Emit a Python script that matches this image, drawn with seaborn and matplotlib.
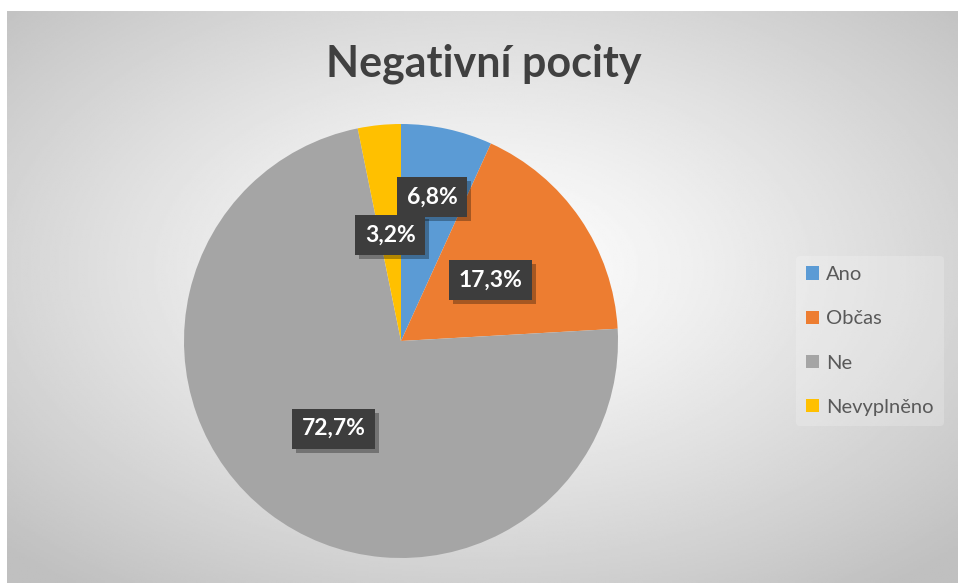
import numpy as np
import matplotlib
matplotlib.use("Agg")
import matplotlib.pyplot as plt
import matplotlib.patheffects as pe
import seaborn as sns

categories = ["Ano", "Občas", "Ne", "Nevyplněno"]
values = [6.8, 17.3, 72.7, 3.2]
labels = ["6,8%", "17,3%", "72,7%", "3,2%"]
title = "Negativní pocity"

sns.set_theme(style="white")
plt.rcParams["font.family"] = ["Lato", "DejaVu Sans"]
palette = sns.color_palette(["#5B9BD5", "#ED7D31", "#A5A5A5", "#FFC000"])

W, H = 958, 583
fig = plt.figure(figsize=(W / 100, H / 100), dpi=100)
fig.patch.set_facecolor("white")

# background radial gradient
bg = fig.add_axes([7 / W, 0, (W - 7) / W, (H - 11) / H])
ny, nx = 300, 500
yy, xx = np.mgrid[-1:1:ny * 1j, -1:1:nx * 1j]
r = np.sqrt(xx ** 2 + (yy + 0.1) ** 2) / np.sqrt(2)
v = 1 - 0.25 * np.clip(r, 0, 1) ** 1.2
bg.imshow(v, cmap="gray", vmin=0, vmax=1, aspect="auto", extent=[0, 1, 0, 1])
bg.set_axis_off()

# pie
cx, cy, R = 401, 341, 217
ax = fig.add_axes([(cx - R) / W, (H - cy - R) / H, 2 * R / W, 2 * R / H])
wedges, _ = ax.pie(values, colors=palette, startangle=90, counterclock=False,
                   radius=1, wedgeprops=dict(linewidth=0))
ax.set_xlim(-1, 1)
ax.set_ylim(-1, 1)
ax.set_aspect("equal")
ax.set_axis_off()

dists = [0.68, 0.5, 0.51, 0.49]
for w, lab, d in zip(wedges, labels, dists):
    ang = np.deg2rad((w.theta1 + w.theta2) / 2)
    t = ax.text(d * np.cos(ang), d * np.sin(ang), lab, ha="center", va="center",
                color="white", fontsize=16.5, fontweight="bold",
                bbox=dict(boxstyle="square,pad=0.42", facecolor="#3d3d3d",
                          edgecolor="none", linewidth=0))
    t.get_bbox_patch().set_path_effects([
        pe.SimplePatchShadow(offset=(3, -3), shadow_rgbFace="black", alpha=0.3), pe.Normal()])

fig.text(484 / W, 1 - 64 / H, title, ha="center", va="center",
         fontsize=31, fontweight="bold", color="#404040")

leg = fig.legend(wedges, categories, loc="center left",
                 bbox_to_anchor=(786 / W, 1 - 341 / H), frameon=True,
                 fontsize=14.5, labelcolor="#595959", handlelength=0.65, handleheight=0.65,
                 handletextpad=0.35, labelspacing=1.35, borderpad=0.5)
leg.get_frame().set_facecolor("white")
leg.get_frame().set_alpha(0.2)
leg.get_frame().set_edgecolor("none")

fig.savefig("out.png", dpi=100)
